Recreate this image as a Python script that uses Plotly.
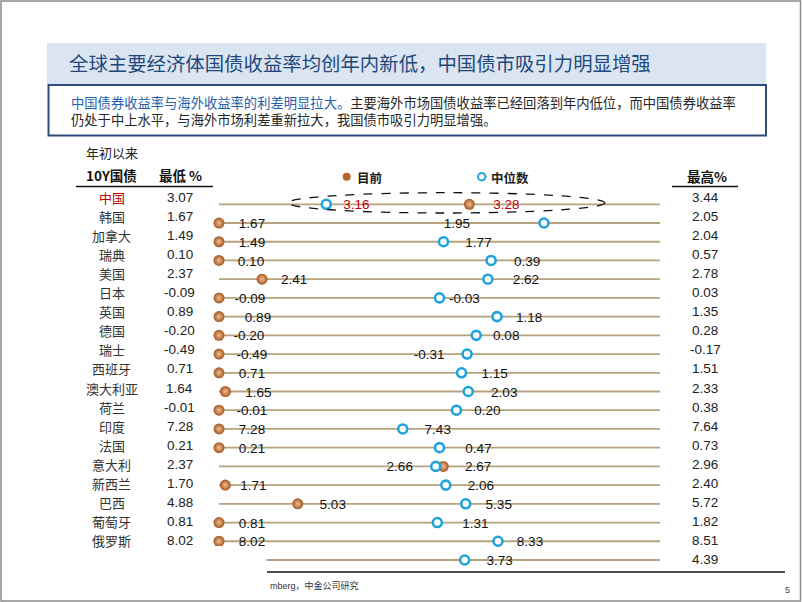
import plotly.graph_objects as go

# ---------------- data ----------------
countries = ["中国", "韩国", "加拿大", "瑞典", "美国", "日本", "英国", "德国", "瑞士", "西班牙",
             "澳大利亚", "荷兰", "印度", "法国", "意大利", "新西兰", "巴西", "葡萄牙", "俄罗斯", ""]
low_ytd = [3.07, 1.67, 1.49, 0.10, 2.37, -0.09, 0.89, -0.20, -0.49, 0.71,
           1.64, -0.01, 7.28, 0.21, 2.37, 1.70, 4.88, 0.81, 8.02, 2.90]
current = [3.28, 1.67, 1.49, 0.10, 2.41, -0.09, 0.89, -0.20, -0.49, 0.71,
           1.65, -0.01, 7.28, 0.21, 2.67, 1.71, 5.03, 0.81, 8.02, 2.90]
median = [3.16, 1.95, 1.77, 0.39, 2.62, -0.03, 1.18, 0.08, -0.31, 1.15,
          2.03, 0.20, 7.43, 0.47, 2.66, 2.06, 5.35, 1.31, 8.33, 3.73]
high_ytd = [3.44, 2.05, 2.04, 0.57, 2.78, 0.03, 1.35, 0.28, -0.17, 1.51,
            2.33, 0.38, 7.64, 0.73, 2.96, 2.40, 5.72, 1.82, 8.51, 4.39]

# ---------------- layout / style constants ----------------
W, H = 802, 602
X0_PX, X1_PX = 219, 660          # plot strip (min -> max)
ROW0_PX, ROW_STEP = 204.3, 18.72  # dot rows
TAB0_PX, TAB_STEP = 197.5, 19.05  # table rows
SPAN = X1_PX - X0_PX
# label offsets in pixels (label centre relative to marker)
CUR_DX = [37, 33, 33, 32, 32, 31, 39, 30, 33, 33, 33, 33, 33, 33, 35, 28, 35, 33, 33, 33]
MED_DX = [30, -87, 35, 36, 38, 25, 32, 30, -38, 33, 36, 31, 35, 39, -36, 35, 33, 38, 32, 35]

CJK = "Noto Sans CJK SC"
NUM = "Arial, Liberation Sans, sans-serif"
RED = "#c00000"
LINE_C = "#b6a27c"
BROWN = "#a4551f"
BROWN_HI = "#f2bf92"
BLUE = "#1ea3dd"


def px(x):
    return x / W


def py(y):
    return 1 - y / H


n = len(countries)
rows = list(range(n))
norm = lambda v, i: (v - low_ytd[i]) / (high_ytd[i] - low_ytd[i])
cur_x = [norm(current[i], i) for i in rows]
med_x = [norm(median[i], i) for i in rows]

fig = go.Figure()

# range lines (min -> max)
lx, ly = [], []
for i in rows:
    lx += [0, 1, None]
    ly += [i, i, None]
fig.add_trace(go.Scatter(x=lx, y=ly, mode="lines", line=dict(color=LINE_C, width=1.8),
                         hoverinfo="skip", showlegend=False, cliponaxis=False))

# current dots
fig.add_trace(go.Scatter(x=cur_x, y=rows, mode="markers", name="目前",
                         marker=dict(size=11, color=BROWN, line=dict(width=0),
                                     gradient=dict(type="radial", color=BROWN_HI)),
                         showlegend=False, cliponaxis=False))
# median circles
fig.add_trace(go.Scatter(x=med_x, y=rows, mode="markers", name="中位数",
                         marker=dict(size=9, color="white", line=dict(width=2.6, color=BLUE)),
                         showlegend=False, cliponaxis=False))

# value labels
txt_col = [RED if i == 0 else "#111111" for i in rows]
fig.add_trace(go.Scatter(x=[cur_x[i] + CUR_DX[i] / SPAN for i in rows], y=[i + 0.09 for i in rows],
                         mode="text", text=[f"{v:.2f}" for v in current],
                         textfont=dict(family=NUM, size=13.5, color=txt_col),
                         textposition="middle center", showlegend=False, cliponaxis=False,
                         hoverinfo="skip"))
fig.add_trace(go.Scatter(x=[med_x[i] + MED_DX[i] / SPAN for i in rows], y=[i + 0.09 for i in rows],
                         mode="text", text=[f"{v:.2f}" for v in median],
                         textfont=dict(family=NUM, size=13.5, color=txt_col),
                         textposition="middle center", showlegend=False, cliponaxis=False,
                         hoverinfo="skip"))

ann = []
shapes = []

# table
for i in rows:
    if not countries[i]:
        continue
    ann.append(dict(x=px(111.5), y=i, xref="paper", yref="y2", text=countries[i], showarrow=False,
                    xanchor="center", yanchor="middle",
                    font=dict(family=CJK, size=13, color=RED if i == 0 else "#333333")))
    ann.append(dict(x=px(179.5), y=i, xref="paper", yref="y2", text=f"{low_ytd[i]:.2f}", showarrow=False,
                    xanchor="center", yanchor="middle", font=dict(family=NUM, size=13.5, color="#222222")))
for i in rows:
    ann.append(dict(x=px(705), y=i, xref="paper", yref="y2", text=f"{high_ytd[i]:.2f}", showarrow=False,
                    xanchor="center", yanchor="middle", font=dict(family=NUM, size=13.5, color="#222222")))

# headers
def txt(x, y, s, size, color="#222222", family=CJK, anchor="center"):
    ann.append(dict(x=px(x), y=py(y), xref="paper", yref="paper", text=s, showarrow=False,
                    xanchor=anchor, yanchor="middle", align=anchor if anchor != "center" else "center",
                    font=dict(family=family, size=size, color=color)))

txt(111.7, 152, "年初以来", 13)
txt(111.7, 174.5, "<b>10Y国债</b>", 13.5, "#111111")
txt(180.7, 174.5, "<b>最低 %</b>", 13.5, "#111111")
txt(707, 175.5, "<b>最高%</b>", 13.5, "#111111")
shapes.append(dict(type="line", xref="paper", yref="paper", x0=px(76), x1=px(213), y0=py(186.5), y1=py(186.5),
                   line=dict(color="#111111", width=1.5)))
shapes.append(dict(type="line", xref="paper", yref="paper", x0=px(672), x1=px(738), y0=py(186.5), y1=py(186.5),
                   line=dict(color="#111111", width=1.5)))

# legend
shapes.append(dict(type="circle", xref="paper", yref="paper", x0=px(342.7), x1=px(350.7), y0=py(180.7), y1=py(172.7),
                   fillcolor="#b5652d", line=dict(width=0)))
shapes.append(dict(type="circle", xref="paper", yref="paper", x0=px(478), x1=px(485.5), y0=py(180.5), y1=py(173),
                   fillcolor="white", line=dict(width=2, color=BLUE)))
txt(355, 177, "<b>目前</b>", 12.5, "#222222", anchor="left")
txt(489, 177, "<b>中位数</b>", 12.5, "#222222", anchor="left")

# dashed ellipse around China
shapes.append(dict(type="circle", xref="paper", yref="paper", x0=px(288), x1=px(605), y0=py(213), y1=py(192.7),
                   line=dict(color="#111111", width=1.3, dash="dash"), layer="above"))

# cover (as in source slide)
shapes.append(dict(type="rect", xref="paper", yref="paper", x0=px(205), x1=px(266.5), y0=py(598), y1=py(546),
                   fillcolor="white", line=dict(width=0), layer="above"))

# bottom rule + source
shapes.append(dict(type="line", xref="paper", yref="paper", x0=px(267), x1=px(785), y0=py(572), y1=py(572),
                   line=dict(color="#111111", width=1.5)))
txt(268, 585, "mberg，中金公司研究", 9, "#333333", family="Arial, Noto Sans CJK SC", anchor="left")
txt(787, 590, "5", 9, "#444444", family=NUM)

# title band
shapes.append(dict(type="rect", xref="paper", yref="paper", x0=px(47), x1=px(766), y0=py(84), y1=py(43),
                   fillcolor="#dbe5f1", line=dict(width=0), layer="below"))
txt(67, 62, "全球主要经济体国债收益率均创年内新低，中国债市吸引力明显增强", 19.4, "#1f497d", anchor="left")

# text box
shapes.append(dict(type="rect", xref="paper", yref="paper", x0=px(48.5), x1=px(766), y0=py(135.5), y1=py(85),
                   fillcolor="rgba(0,0,0,0)", line=dict(color="#2f4b7c", width=2)))
BODY = 13.3
txt(69, 110.6,
    "<span style='color:#2460ad'>中国债券收益率与海外收益率的利差明显拉大。</span>"
    "主要海外市场国债收益率已经回落到年内低位，而中国债券收益率<br>"
    "仍处于中上水平，与海外市场利差重新拉大，我国债市吸引力明显增强。",
    BODY, "#262626", anchor="left")

# frame
shapes.append(dict(type="rect", xref="paper", yref="paper", x0=px(1), x1=px(800.5), y0=py(601), y1=py(1),
                   fillcolor="rgba(0,0,0,0)", line=dict(color="#8a8a8a", width=1.5)))

fig.update_layout(
    width=W, height=H, margin=dict(l=0, r=0, t=0, b=0),
    paper_bgcolor="white", plot_bgcolor="white",
    xaxis=dict(domain=[px(X0_PX), px(X1_PX)], range=[0, 1], visible=False, fixedrange=True),
    yaxis=dict(domain=[0, 1], range=[(H - ROW0_PX) / ROW_STEP, -ROW0_PX / ROW_STEP], visible=False, fixedrange=True),
    yaxis2=dict(domain=[0, 1], overlaying="y", range=[(H - TAB0_PX) / TAB_STEP, -TAB0_PX / TAB_STEP],
                visible=False, fixedrange=True),
    annotations=ann, shapes=shapes, showlegend=False,
)

fig.write_html("out.html", config={"displayModeBar": False},
               post_script="document.body.style.margin='0';document.body.style.overflow='hidden';")
